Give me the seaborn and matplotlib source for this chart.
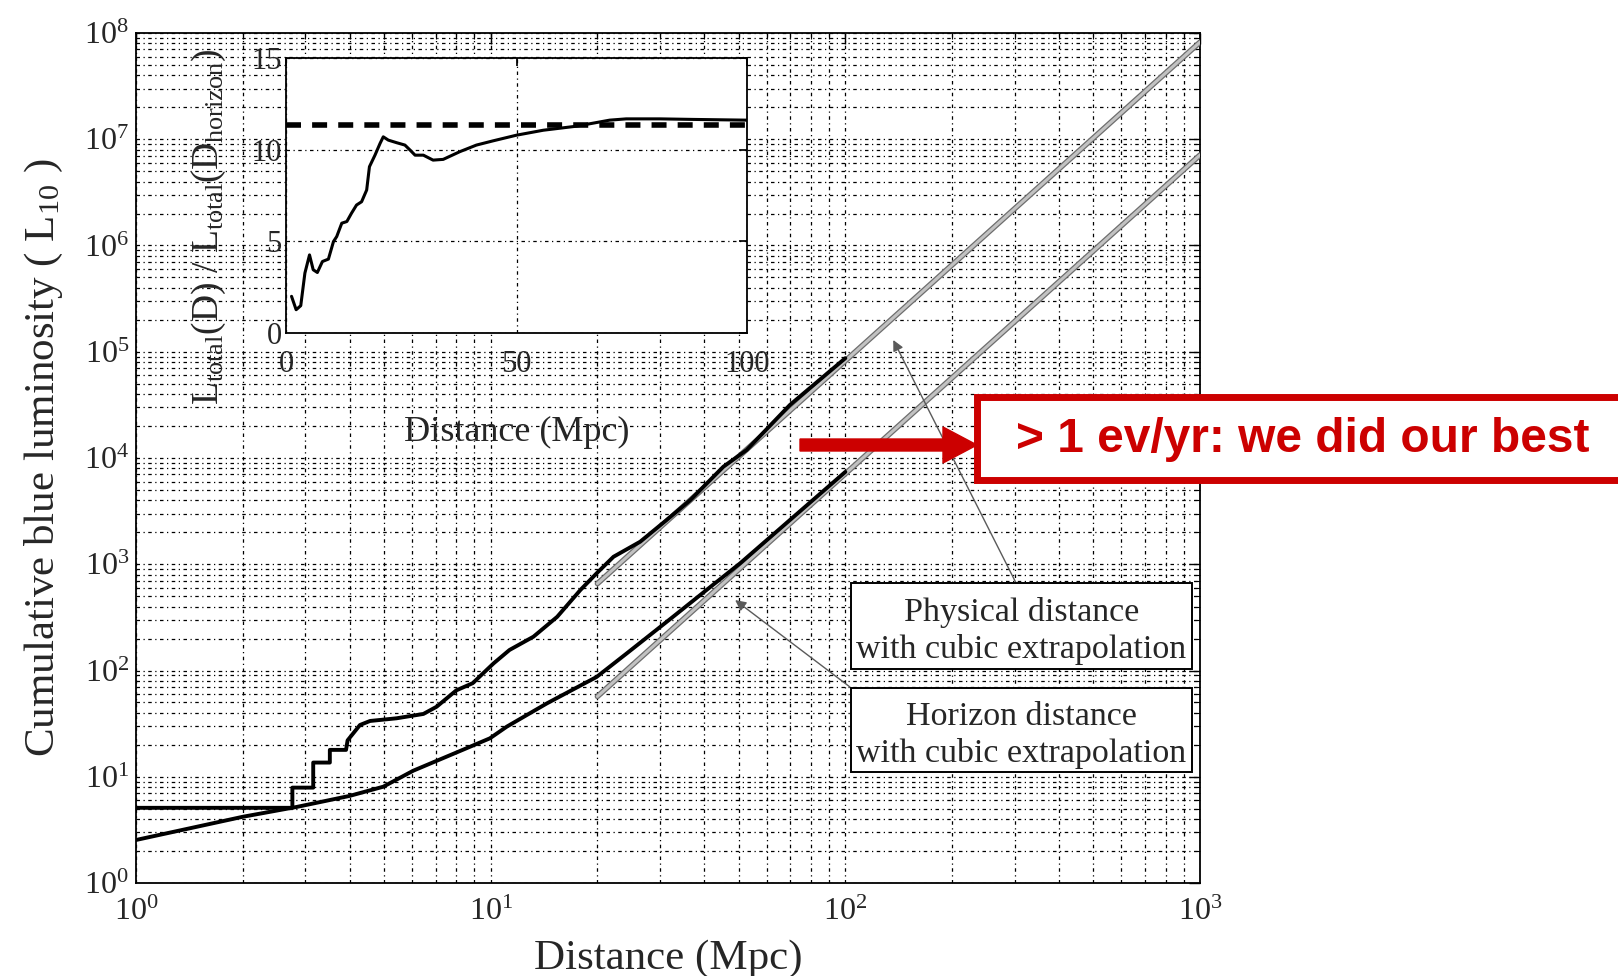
import numpy as np
import matplotlib
matplotlib.use("Agg")
import matplotlib.pyplot as plt
import seaborn as sns
from matplotlib.patches import Rectangle, FancyArrow
from matplotlib.ticker import LogLocator, NullFormatter, FixedLocator

# Cumulative blue luminosity (L10) vs distance (Mpc), physical distance
phys_dist = [1.0, 2.76, 2.76, 3.16, 3.16, 3.52, 3.52, 3.91, 3.95, 4.28, 4.57,
             5.43, 6.46, 7.04, 8.0, 8.9, 10.2, 11.3, 13.2, 15.4, 17.9, 19.9,
             22.2, 26.4, 31.3, 36.5, 45.3, 52.7, 69.8, 100.0]
phys_lum = [5.1, 5.1, 7.9, 7.9, 13.6, 13.6, 17.9, 17.9, 22.0, 30.7, 33.5,
            35.5, 39.0, 45.6, 65.0, 76.0, 117.0, 156.0, 208.0, 320.0, 572.0, 822.0,
            1176.0, 1630.0, 2600.0, 4000.0, 8280.0, 11900.0, 31600.0, 87000.0]

# Cumulative luminosity within the horizon distance
hor_dist = [1.0, 2.0, 2.84, 4.0, 4.98, 6.05, 8.37, 9.95, 11.1, 14.4, 19.9,
            24.2, 32.7, 40.6, 50.5, 69.8, 100.0]
hor_lum = [2.54, 4.2, 5.2, 6.6, 8.06, 11.4, 18.0, 23.0, 29.6, 49.0, 87.0,
           145.0, 321.0, 572.0, 1020.0, 2610.0, 7400.0]

# Cubic extrapolations beyond 20 Mpc
ext_dist = [20.0, 1000.0]
phys_ext_lum = [658.0, 8.2e7]
hor_ext_lum = [57.0, 7.1e6]

# Inset: ratio of cumulative luminosities
ratio_dist = [1.2, 2.2, 3.2, 4.1, 5.1, 5.9, 6.8, 7.9, 9.2, 10.3, 11.0, 12.1,
              13.2, 14.2, 15.3, 16.4, 17.5, 18.1, 19.3, 20.4, 21.1, 22.2, 24.0,
              25.8, 26.9, 28.0, 29.8, 31.9, 34.1, 37.7, 41.3, 44.9, 50.0, 55.8,
              63.0, 70.2, 73.8, 81.1, 88.3, 100.0]
ratio_val = [2.0, 1.27, 1.49, 3.27, 4.26, 3.45, 3.30, 3.90, 4.03, 4.99, 5.26,
             5.99, 6.08, 6.53, 6.98, 7.16, 7.80, 9.07, 9.70, 10.34, 10.70, 10.52,
             10.38, 10.25, 9.98, 9.70, 9.70, 9.43, 9.47, 9.89, 10.25, 10.48,
             10.79, 11.06, 11.28, 11.61, 11.68, 11.68, 11.65, 11.61]
ratio_level = 11.34

x_major = [1, 10, 100, 1000]
y_major = [10.0 ** k for k in range(0, 9)]
inset_xticks = [0, 50, 100]
inset_yticks = [0, 5, 10, 15]

sns.set_theme(style="white")
plt.rcParams.update({
    "font.family": ["Liberation Serif", "DejaVu Serif"],
    "mathtext.fontset": "custom",
    "mathtext.rm": "Liberation Serif",
    "mathtext.it": "Liberation Serif:italic",
    "mathtext.bf": "Liberation Serif:bold",
    "axes.edgecolor": "black",
    "axes.linewidth": 1.3,
})

W, H = 1618, 976
fig = plt.figure(figsize=(W / 100, H / 100), dpi=100)
fig.patch.set_facecolor("white")

grid_style = dict(color="black", linewidth=0.9, linestyle=(0, (2.8, 2.8, 1.0, 2.8)))

# ---- main log-log panel ----
ax = fig.add_axes([136 / W, 1 - 883 / H, (1200 - 136) / W, (883 - 33) / H])
ax.set_facecolor("white")
ax.set_xscale("log")
ax.set_yscale("log")
ax.set_xlim(1, 1000)
ax.set_ylim(1, 1e8)

for lum in (phys_ext_lum, hor_ext_lum):
    sns.lineplot(x=ext_dist, y=lum, ax=ax, color="#6e6e6e", lw=4.0,
                 estimator=None, sort=False, zorder=3)
    sns.lineplot(x=ext_dist, y=lum, ax=ax, color="#c2c2c2", lw=2.2,
                 estimator=None, sort=False, zorder=3.1)

sns.lineplot(x=phys_dist, y=phys_lum, ax=ax, color="black", lw=2.8,
             estimator=None, sort=False, zorder=4)
sns.lineplot(x=hor_dist, y=hor_lum, ax=ax, color="black", lw=2.8,
             estimator=None, sort=False, zorder=4)

ax.xaxis.set_major_locator(FixedLocator(x_major))
ax.yaxis.set_major_locator(FixedLocator(y_major))
ax.xaxis.set_minor_locator(LogLocator(base=10, subs=np.arange(2, 10), numticks=100))
ax.yaxis.set_minor_locator(LogLocator(base=10, subs=np.arange(2, 10), numticks=100))
ax.xaxis.set_minor_formatter(NullFormatter())
ax.yaxis.set_minor_formatter(NullFormatter())
ax.tick_params(which="both", direction="in", top=True, right=True, color="black")
ax.tick_params(which="major", length=8, width=1.0, labelsize=23)
ax.tick_params(which="minor", length=4, width=0.8)
ax.tick_params(axis="x", which="major", pad=11)
ax.tick_params(axis="y", which="major", pad=5)
ax.grid(which="both", axis="both", **grid_style)
ax.set_axisbelow(True)
ax.set_xlabel("Distance (Mpc)", fontsize=31, labelpad=9)
ax.set_ylabel(r"Cumulative blue luminosity ( L$_{10}$ )", fontsize=31, labelpad=14)
for sp in ax.spines.values():
    sp.set_visible(True)
    sp.set_color("black")

# Labels pointing at the extrapolated curves
arrow_kw = dict(arrowstyle="-|>", color="#5a5a5a", lw=1.0, mutation_scale=16,
                shrinkA=0, shrinkB=0)
ax.annotate("", xy=(136.5, 1.29e5), xytext=(303, 665), arrowprops=arrow_kw, zorder=5)
ax.annotate("", xy=(48.9, 460), xytext=(103, 70), arrowprops=arrow_kw, zorder=5)

box_specs = [
    ((0.672, 0.252), 0.3205, 0.101, "Physical distance\nwith cubic extrapolation"),
    ((0.672, 0.1306), 0.3205, 0.0988, "Horizon distance\nwith cubic extrapolation"),
]
for (x0, y0), bw, bh, txt in box_specs:
    ax.add_patch(Rectangle((x0, y0), bw, bh, transform=ax.transAxes,
                           facecolor="white", edgecolor="black", lw=1.4, zorder=6))
    ax.text(x0 + bw / 2, y0 + bh / 2 - 0.006, txt, transform=ax.transAxes,
            ha="center", va="center", fontsize=24.5, linespacing=1.27, zorder=7)

# ---- inset: luminosity ratio ----
axin = fig.add_axes([286 / W, 1 - 333 / H, (747 - 286) / W, (333 - 58) / H])
axin.set_facecolor("white")
sns.lineplot(x=ratio_dist, y=ratio_val, ax=axin, color="black", lw=2.2,
             estimator=None, sort=False, zorder=3)
sns.lineplot(x=[0, 100], y=[ratio_level, ratio_level], ax=axin, color="black",
             lw=4.0, linestyle=(0, (2.7, 2.0)), estimator=None, sort=False, zorder=4)
axin.set_xlim(0, 100)
axin.set_ylim(0, 15)
axin.xaxis.set_major_locator(FixedLocator(inset_xticks))
axin.yaxis.set_major_locator(FixedLocator(inset_yticks))
axin.tick_params(which="both", direction="in", top=True, right=True, length=6,
                 labelsize=22, color="black")
axin.tick_params(axis="x", pad=12)
axin.tick_params(axis="y", pad=3)
axin.grid(which="major", **grid_style)
axin.set_axisbelow(True)
axin.set_xlabel("Distance (Mpc)", fontsize=26, labelpad=27)
axin.set_ylabel(r"L$_{\rm total}$(D) / L$_{\rm total}$(D$_{\rm horizon}$)",
                fontsize=27)
axin.yaxis.set_label_coords(-0.125, 0.385)
for sp in axin.spines.values():
    sp.set_visible(True)
    sp.set_color("black")

# ---- red call-out over the figure (pixel coordinates) ----
ov = fig.add_axes([0, 0, 1, 1], zorder=10)
ov.set_xlim(0, W)
ov.set_ylim(H, 0)
ov.axis("off")
ov.patch.set_alpha(0)
red = "#cc0000"
ov.add_patch(Rectangle((977, 397), 700, 83, facecolor="white", edgecolor=red,
                       lw=5, zorder=2))
ov.add_patch(FancyArrow(800, 445, 177, 0, width=12, head_width=36, head_length=34,
                        length_includes_head=True, color=red, zorder=3))
ov.text(1016, 440, "> 1 ev/yr: we did our best", color=red, fontsize=34.5,
        fontweight="bold", family=["Liberation Sans", "DejaVu Sans"],
        ha="left", va="center", zorder=4)

fig.savefig("out.png", dpi=100, facecolor="white")
